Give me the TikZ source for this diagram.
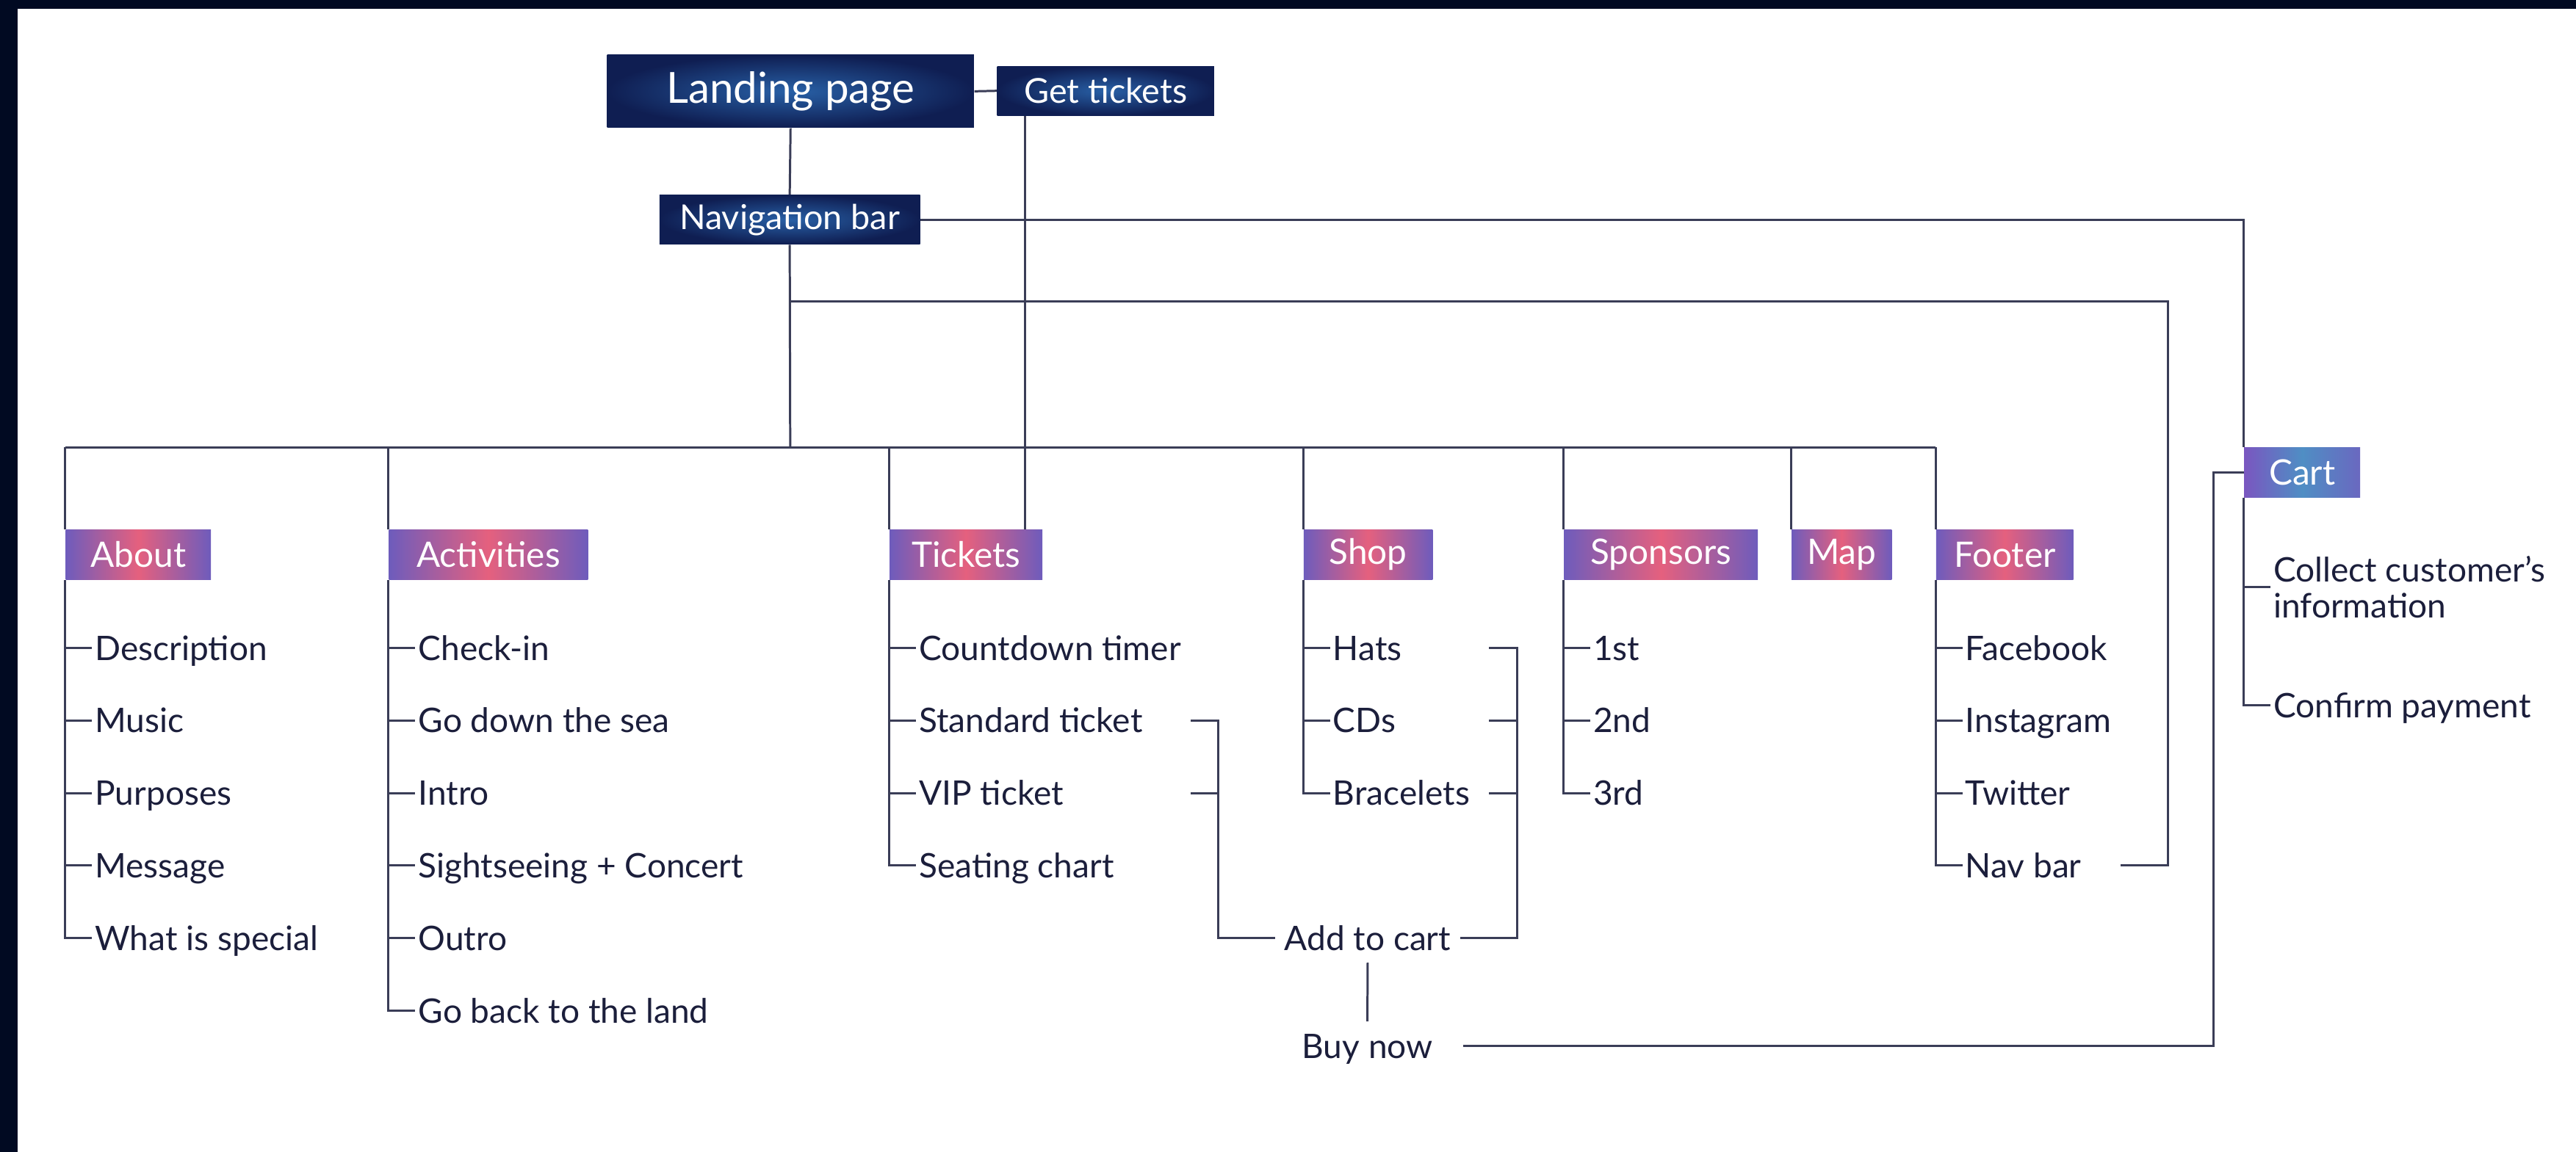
\documentclass[tikz,border=0pt]{standalone}
\usepackage{fontspec}
\setmainfont{Lato}
\newlength\upx
\setlength\upx{0.022366cm}
\definecolor{bgdark}{HTML}{010A22}
\definecolor{txc}{HTML}{1B1E3B}
\definecolor{lnc}{HTML}{3A3D57}
\definecolor{dkout}{HTML}{0F1E52}
\definecolor{dkin}{HTML}{2860A6}
\definecolor{catside}{HTML}{6E5CBC}
\definecolor{catmid}{HTML}{E5607E}
\definecolor{cartl}{HTML}{7A56C0}
\definecolor{cartm}{HTML}{4F8EC4}
\definecolor{cartr}{HTML}{6A68C0}
\tikzset{
  ln/.style={draw=lnc, line width=0.85pt},
  darkbox/.style={inner sep=0pt, text=white, inner color=dkin, outer color=dkout},
  catbox/.style={minimum width=#1, minimum height=30.5\upx, inner sep=0pt, text=white,
    font=\fontsize{13.6}{15}\selectfont, left color=catside, right color=catside, middle color=catmid},
  item/.style={anchor=west, inner xsep=1pt, inner ysep=0pt, text height=9.5pt, text depth=0pt,
    text=txc, font=\fontsize{13.1}{14}\selectfont},
  plain/.style={inner xsep=3.5pt, inner ysep=4.6pt, text height=9.5pt, text depth=0pt,
    text=txc, font=\fontsize{13.1}{14}\selectfont},
}
\begin{document}
\begin{tikzpicture}[x=0.022366cm, y=-0.022366cm]
\useasboundingbox (0,0) rectangle (1568,701.5);
\fill[white] (0,0) rectangle (1568,701.5);
\fill[bgdark] (0,0) rectangle (1568,5.4);
\fill[bgdark] (0,0) rectangle (10.7,701.5);

% top boxes
\node[darkbox, minimum width=223.2\upx, minimum height=44.3\upx, font=\fontsize{16.6}{18}\selectfont] (landing) at (481.2,55.6) {Landing page};
\node[darkbox, minimum width=132\upx, minimum height=30\upx, font=\fontsize{13.3}{15}\selectfont] (gettix) at (673,55.3) {Get tickets};
\node[darkbox, minimum width=158.6\upx, minimum height=30\upx, font=\fontsize{13.3}{15}\selectfont] (navbar) at (480.7,133.75) {Navigation bar};

% categories
\node[catbox=88.3\upx] (about) at (84.2,337.7) {About};
\node[catbox=121\upx] (activities) at (297.3,337.7) {Activities};
\node[catbox=93\upx] (tickets) at (588,337.7) {Tickets};
\node[catbox=78.4\upx] (shop) at (832.8,337.7) {Shop};
\node[catbox=118\upx] (sponsors) at (1011,337.7) {Sponsors};
\node[catbox=61\upx] (map) at (1121,337.7) {Map};
\node[catbox=83.5\upx] (footer) at (1220.3,337.7) {Footer};
\node[catbox=70.6\upx, left color=cartl, right color=cartr, middle color=cartm] (cart) at (1401.3,287.7) {Cart};

% items
\def\Ya{394.5}\def\Yb{438.7}\def\Yc{482.9}\def\Yd{527}\def\Ye{571.2}\def\Yf{615.4}
\node[item] (a1) at (56,\Ya) {Description};
\node[item] (a2) at (56,\Yb) {Music};
\node[item] (a3) at (56,\Yc) {Purposes};
\node[item] (a4) at (56,\Yd) {Message};
\node[item] (a5) at (56,\Ye) {What is special};

\node[item] (b1) at (252.8,\Ya) {Check-in};
\node[item] (b2) at (252.8,\Yb) {Go down the sea};
\node[item] (b3) at (252.8,\Yc) {Intro};
\node[item] (b4) at (252.8,\Yd) {Sightseeing + Concert};
\node[item] (b5) at (252.8,\Ye) {Outro};
\node[item] (b6) at (252.8,\Yf) {Go back to the land};

\node[item] (c1) at (557.6,\Ya) {Countdown timer};
\node[item] (c2) at (557.6,\Yb) {Standard ticket};
\node[item] (c3) at (557.6,\Yc) {VIP ticket};
\node[item] (c4) at (557.6,\Yd) {Seating chart};

\node[item] (d1) at (809.6,\Ya) {Hats};
\node[item] (d2) at (809.6,\Yb) {CDs};
\node[item] (d3) at (809.6,\Yc) {Bracelets};

\node[item] (e1) at (968,\Ya) {1st};
\node[item] (e2) at (968,\Yb) {2nd};
\node[item] (e3) at (968,\Yc) {3rd};

\node[item] (f1) at (1194.5,\Ya) {Facebook};
\node[item] (f2) at (1194.5,\Yb) {Instagram};
\node[item] (f3) at (1194.5,\Yc) {Twitter};
\node[item] (f4) at (1194.5,\Yd) {Nav bar};

\node[anchor=west, inner xsep=1pt, inner ysep=0pt, align=left, text=txc, font=\fontsize{13.1}{14}\selectfont] (g1) at (1382,357.5) {Collect customer’s\\information};
\node[item] (g2) at (1382,429.5) {Confirm payment};

\node[plain] (add) at (832.5,\Ye) {Add to cart};
\node[plain] (buy) at (832.3,637) {Buy now};

% helper coordinates
\coordinate (bus) at (481,272.5);
\coordinate (gtj) at (624,0);
\coordinate (nj) at (481,183.6);
\coordinate (nr) at (1319.7,183.6);
\coordinate (fnR) at (1291,\Yd);
\coordinate (stdR) at (724.8,\Yb);
\coordinate (vipR) at (724.8,\Yc);
\coordinate (tj) at (741.3,\Yb);
\coordinate (hatsR) at (906.3,\Ya);
\coordinate (cdsR) at (906.3,\Yb);
\coordinate (braR) at (906.3,\Yc);
\coordinate (sj) at (923.5,\Ya);
\coordinate (cj) at (1347.5,0);

% top connectors
\draw[ln] (landing.south) -- (navbar.north);
\draw[ln] (navbar.south) -- (bus);
\draw[ln] (landing.east) -- (gettix.west);
\draw[ln] (gettix.south -| gtj) -- (tickets.north -| gtj);
\draw[ln] (navbar.east) -| (cart.north west);
\draw[ln] (nj) -- (nr) |- (fnR);

% bus
\draw[ln, line width=1pt] (bus -| about.north west) -- (bus -| footer.north west);
\foreach \c in {about,activities,tickets,shop,sponsors,map,footer}
  \draw[ln] (bus -| \c.north west) -- (\c.north west);

% trunks and ticks
\draw[ln] (about.south west) |- (a5.west);
\foreach \i in {a1,a2,a3,a4} \draw[ln] (\i.west -| about.south west) -- (\i.west);
\draw[ln] (activities.south west) |- (b6.west);
\foreach \i in {b1,b2,b3,b4,b5} \draw[ln] (\i.west -| activities.south west) -- (\i.west);
\draw[ln] (tickets.south west) |- (c4.west);
\foreach \i in {c1,c2,c3} \draw[ln] (\i.west -| tickets.south west) -- (\i.west);
\draw[ln] (shop.south west) |- (d3.west);
\foreach \i in {d1,d2} \draw[ln] (\i.west -| shop.south west) -- (\i.west);
\draw[ln] (sponsors.south west) |- (e3.west);
\foreach \i in {e1,e2} \draw[ln] (\i.west -| sponsors.south west) -- (\i.west);
\draw[ln] (footer.south west) |- (f4.west);
\foreach \i in {f1,f2,f3} \draw[ln] (\i.west -| footer.south west) -- (\i.west);
\draw[ln] (cart.south west) |- (g2.west);
\draw[ln] (g1.west -| cart.south west) -- (g1.west);

% add to cart / buy now
\draw[ln] (stdR) -- (tj) |- (add.west);
\draw[ln] (vipR) -- (vipR -| tj);
\draw[ln] (hatsR) -- (sj) |- (add.east);
\draw[ln] (cdsR) -- (cdsR -| sj);
\draw[ln] (braR) -- (braR -| sj);
\draw[ln] (add.south) -- (buy.north);
\draw[ln] ([xshift=8pt]buy.east) -| (cart.west -| cj) -- (cart.west);
\end{tikzpicture}
\end{document}
